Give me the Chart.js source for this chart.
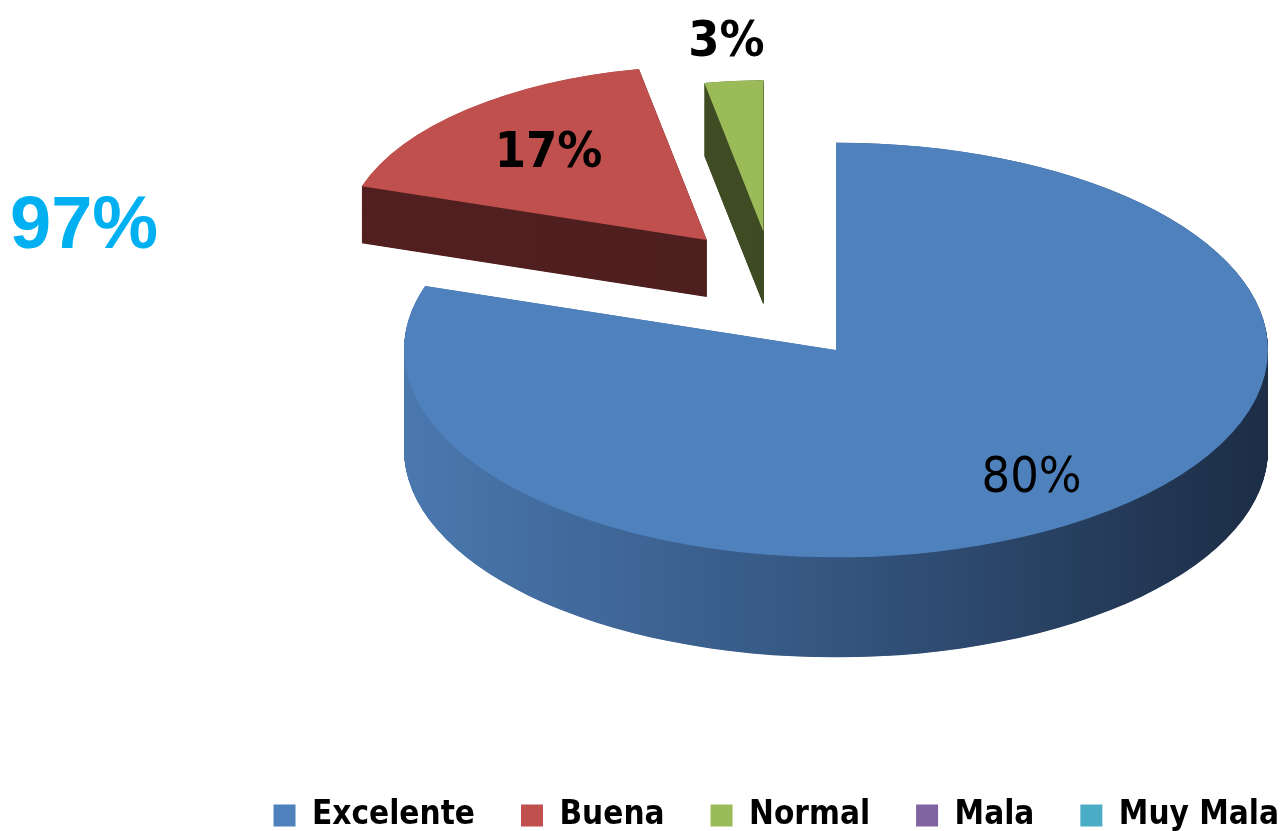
<!DOCTYPE html>
<html>
<head>
<meta charset="utf-8">
<script src="https://cdn.jsdelivr.net/npm/chart.js@4/dist/chart.umd.min.js"></script>
<style>
  html, body { margin: 0; padding: 0; background: #fff; }
  #wrap { position: relative; width: 1287px; height: 831px; }
</style>
</head>
<body>
<div id="wrap"><canvas id="pie"></canvas></div>
<script>
// chart data
const categories = ['Excelente', 'Buena', 'Normal', 'Mala', 'Muy Mala'];
const percents = [80, 17, 3, 0, 0];
const totalLabel = '97%';

// look of each slice
const topColors = ['#4F81BD', '#C0504D', '#9BBB59', '#8064A2', '#4BACC6'];
const wallColors = [['#4A78AF', '#34557F', '#1C2D45'], ['#521F1F', '#4E1F1F', '#4A1D1D'],
                    ['#415026', '#3E4B23', '#3A4620'], ['#4A3A5E', '#433452', '#3C2E49'], ['#2C6473', '#275966', '#214D58']];
const explode = [0, 263, 257, 0, 0];        // px, pulled out from the centre
const explodeTurn = [0, 12, -11, 0, 0];     // degrees off the slice bisector
const radiusScale = [1, 0.84, 0.73, 1, 1];
const wallDepth = [100, 57, 73, 0, 0];      // screen px
const labelFrac = [0.77, 0.66, 1.25, 0, 0];
const labelBold = [false, true, true, false, false];

const TILT = 0.48;
const PIE_X = 836, PIE_Y = 350, PIE_R = 432;
const NARROW = '"Liberation Sans Narrow", "DejaVu Sans Condensed", sans-serif';

let base = {x: 0, y: 0};

function toScreen(x, y) {
    return {x: x - base.x + PIE_X, y: PIE_Y + (y - base.y) * TILT};
}

function applyTilt(ctx) {
    ctx.translate(PIE_X - base.x, PIE_Y);
    ctx.scale(1, TILT);
    ctx.translate(0, -base.y);
}

const pie3d = {
    id: 'pie3d',
    afterDatasetsUpdate(chart) {
        let arcs = chart.getDatasetMeta(0).data;
        base = {x: arcs[0].x, y: arcs[0].y};
        arcs.forEach((arc, i) => {
            let dir = (arc.startAngle + arc.endAngle) / 2 + explodeTurn[i] * Math.PI / 180;
            arc.x = base.x + Math.cos(dir) * explode[i];
            arc.y = base.y + Math.sin(dir) * explode[i];
            arc.outerRadius = PIE_R * radiusScale[i];
        });
    },
    beforeDatasetsDraw(chart) {
        const ctx = chart.ctx;
        let arcs = chart.getDatasetMeta(0).data;
        ctx.save();
        applyTilt(ctx);
        // side walls: stack the slice shape downwards
        arcs.forEach((arc, i) => {
            if (!arc.circumference || !wallDepth[i]) return;
            let r = arc.outerRadius;
            let grad = ctx.createLinearGradient(arc.x - r, 0, arc.x + r, 0);
            grad.addColorStop(0, wallColors[i][0]);
            grad.addColorStop(0.5, wallColors[i][1]);
            grad.addColorStop(1, wallColors[i][2]);
            ctx.fillStyle = grad;
            let depth = wallDepth[i] / TILT;
            for (let d = depth; d > 0; d -= 1) {
                ctx.beginPath();
                ctx.moveTo(arc.x, arc.y + d);
                ctx.arc(arc.x, arc.y + d, r, arc.startAngle, arc.endAngle);
                ctx.closePath();
                ctx.fill();
            }
        });
    },
    afterDatasetsDraw(chart) {
        const ctx = chart.ctx;
        ctx.restore();
        let arcs = chart.getDatasetMeta(0).data;
        ctx.save();
        ctx.fillStyle = '#000';
        ctx.textAlign = 'center';
        ctx.textBaseline = 'middle';
        arcs.forEach((arc, i) => {
            if (!percents[i]) return;
            let mid = (arc.startAngle + arc.endAngle) / 2;
            let rr = arc.outerRadius * labelFrac[i];
            let p = toScreen(arc.x + Math.cos(mid) * rr, arc.y + Math.sin(mid) * rr);
            ctx.font = (labelBold[i] ? 'bold ' : '') + '50px ' + NARROW;
            ctx.fillText(percents[i] + '%', p.x, p.y);
        });
        ctx.fillStyle = '#00B0F0';
        ctx.textAlign = 'left';
        ctx.textBaseline = 'alphabetic';
        ctx.font = 'bold 74px "Liberation Sans", Arial, sans-serif';
        ctx.fillText(totalLabel, 10, 248);
        ctx.restore();
    }
};

new Chart(document.getElementById('pie'), {
    type: 'pie',
    data: {
        labels: categories,
        datasets: [{
            data: percents,
            backgroundColor: topColors,
            borderWidth: 0,
        }],
    },
    options: {
        responsive: true,
        maintainAspectRatio: false,
        animation: false,
        events: [],
        radius: PIE_R,
        layout: {padding: {bottom: -11, right: -38}},
        plugins: {
            legend: {
                position: 'bottom',
                align: 'end',
                labels: {
                    boxWidth: 22,
                    boxHeight: 22,
                    padding: 46,
                    color: '#000',
                    font: {family: NARROW, size: 33, weight: 'bold'},
                },
            },
            tooltip: {enabled: false},
        },
    },
    plugins: [pie3d],
});
</script>
</body>
</html>
